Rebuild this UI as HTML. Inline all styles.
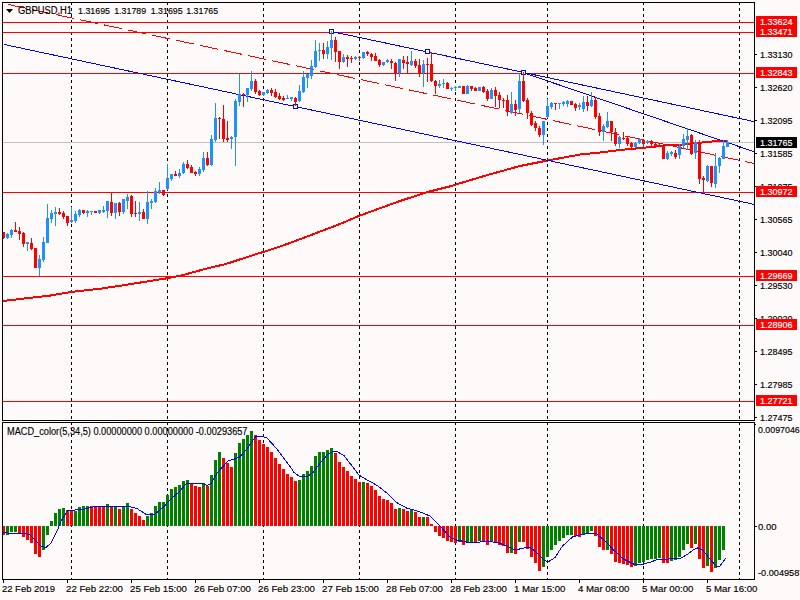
<!DOCTYPE html>
<html><head><meta charset="utf-8"><style>
html,body{margin:0;padding:0;width:800px;height:600px;overflow:hidden;background:#FFFAFA}
svg{display:block;position:absolute;left:0;top:0}
text{font-family:"Liberation Sans",sans-serif;font-size:10px;fill:#000;stroke:#000;stroke-width:0.15px}
</style></head><body>
<svg width="800" height="600" viewBox="0 0 800 600">
<rect x="0" y="0" width="800" height="600" fill="#FFFAFA"/>
<g shape-rendering="crispEdges">
<line x1="71.5" y1="3" x2="71.5" y2="420" stroke="#000" stroke-width="1" stroke-dasharray="3 3" stroke-dashoffset="1"/>
<line x1="71.5" y1="423" x2="71.5" y2="579" stroke="#000" stroke-width="1" stroke-dasharray="3 3" stroke-dashoffset="1"/>
<line x1="167.5" y1="3" x2="167.5" y2="420" stroke="#000" stroke-width="1" stroke-dasharray="3 3" stroke-dashoffset="1"/>
<line x1="167.5" y1="423" x2="167.5" y2="579" stroke="#000" stroke-width="1" stroke-dasharray="3 3" stroke-dashoffset="1"/>
<line x1="263.5" y1="3" x2="263.5" y2="420" stroke="#000" stroke-width="1" stroke-dasharray="3 3" stroke-dashoffset="1"/>
<line x1="263.5" y1="423" x2="263.5" y2="579" stroke="#000" stroke-width="1" stroke-dasharray="3 3" stroke-dashoffset="1"/>
<line x1="359.5" y1="3" x2="359.5" y2="420" stroke="#000" stroke-width="1" stroke-dasharray="3 3" stroke-dashoffset="1"/>
<line x1="359.5" y1="423" x2="359.5" y2="579" stroke="#000" stroke-width="1" stroke-dasharray="3 3" stroke-dashoffset="1"/>
<line x1="455.5" y1="3" x2="455.5" y2="420" stroke="#000" stroke-width="1" stroke-dasharray="3 3" stroke-dashoffset="1"/>
<line x1="455.5" y1="423" x2="455.5" y2="579" stroke="#000" stroke-width="1" stroke-dasharray="3 3" stroke-dashoffset="1"/>
<line x1="547.5" y1="3" x2="547.5" y2="420" stroke="#000" stroke-width="1" stroke-dasharray="3 3" stroke-dashoffset="1"/>
<line x1="547.5" y1="423" x2="547.5" y2="579" stroke="#000" stroke-width="1" stroke-dasharray="3 3" stroke-dashoffset="1"/>
<line x1="643.5" y1="3" x2="643.5" y2="420" stroke="#000" stroke-width="1" stroke-dasharray="3 3" stroke-dashoffset="1"/>
<line x1="643.5" y1="423" x2="643.5" y2="579" stroke="#000" stroke-width="1" stroke-dasharray="3 3" stroke-dashoffset="1"/>
<line x1="739.5" y1="3" x2="739.5" y2="420" stroke="#000" stroke-width="1" stroke-dasharray="3 3" stroke-dashoffset="1"/>
<line x1="739.5" y1="423" x2="739.5" y2="579" stroke="#000" stroke-width="1" stroke-dasharray="3 3" stroke-dashoffset="1"/>
<line x1="3" y1="142.5" x2="754" y2="142.5" stroke="#C0C0C0" stroke-width="1" />
<polyline points="2.5,301 50,295.6 70,292.1 100,288.75 125,285 150,281 167.5,278.2 180,275.8 195,271.75 210,267.7 225,264.25 240,259.4 255,254.5 264,251.8 285,244.75 300,239.2 337.5,225 360,215.5 400,201 427.5,192 450,186.4 459.4,183.4 487.5,175 520,166 547.5,160.5 581,154.4 600,152.5 620,150 644,147.75 665,145.5 684,144.4 697,143 712,141.5 727,141" fill="none" stroke="#FF0000" stroke-width="2"/>
<line x1="3" y1="22.5" x2="754" y2="22.5" stroke="#FF0000" stroke-width="1" />
<line x1="3" y1="32.5" x2="754" y2="32.5" stroke="#FF0000" stroke-width="1" />
<line x1="3" y1="73.5" x2="754" y2="73.5" stroke="#FF0000" stroke-width="1" />
<line x1="3" y1="192.5" x2="754" y2="192.5" stroke="#FF0000" stroke-width="1" />
<line x1="3" y1="276.5" x2="754" y2="276.5" stroke="#FF0000" stroke-width="1" />
<line x1="3" y1="325.5" x2="754" y2="325.5" stroke="#FF0000" stroke-width="1" />
<line x1="3" y1="401.5" x2="754" y2="401.5" stroke="#FF0000" stroke-width="1" />
<line x1="3.75" y1="44.4" x2="754" y2="204.35330000000002" stroke="#0000FF" stroke-width="1" />
<line x1="331.5" y1="31.5" x2="754" y2="121.577" stroke="#0000FF" stroke-width="1" />
<line x1="8" y1="4.42" x2="26" y2="8.26" stroke="#FF0000" stroke-width="1"/>
<line x1="32" y1="9.53" x2="50" y2="13.37" stroke="#FF0000" stroke-width="1"/>
<line x1="56" y1="14.65" x2="74" y2="18.49" stroke="#FF0000" stroke-width="1"/>
<line x1="80" y1="19.77" x2="98" y2="23.61" stroke="#FF0000" stroke-width="1"/>
<line x1="104" y1="24.89" x2="122" y2="28.72" stroke="#FF0000" stroke-width="1"/>
<line x1="128" y1="30.00" x2="146" y2="33.84" stroke="#FF0000" stroke-width="1"/>
<line x1="152" y1="35.12" x2="170" y2="38.96" stroke="#FF0000" stroke-width="1"/>
<line x1="176" y1="40.24" x2="194" y2="44.07" stroke="#FF0000" stroke-width="1"/>
<line x1="200" y1="45.35" x2="218" y2="49.19" stroke="#FF0000" stroke-width="1"/>
<line x1="224" y1="50.47" x2="242" y2="54.31" stroke="#FF0000" stroke-width="1"/>
<line x1="248" y1="55.59" x2="266" y2="59.42" stroke="#FF0000" stroke-width="1"/>
<line x1="272" y1="60.70" x2="290" y2="64.54" stroke="#FF0000" stroke-width="1"/>
<line x1="296" y1="65.82" x2="314" y2="69.66" stroke="#FF0000" stroke-width="1"/>
<line x1="320" y1="70.94" x2="331" y2="73.28" stroke="#FF0000" stroke-width="1"/>
<line x1="337" y1="74.56" x2="355" y2="78.40" stroke="#FF0000" stroke-width="1"/>
<line x1="361" y1="79.68" x2="379" y2="83.52" stroke="#FF0000" stroke-width="1"/>
<line x1="385" y1="84.79" x2="403" y2="88.63" stroke="#FF0000" stroke-width="1"/>
<line x1="409" y1="89.91" x2="427" y2="93.75" stroke="#FF0000" stroke-width="1"/>
<line x1="433" y1="95.03" x2="451" y2="98.87" stroke="#FF0000" stroke-width="1"/>
<line x1="457" y1="100.14" x2="475" y2="103.98" stroke="#FF0000" stroke-width="1"/>
<line x1="481" y1="105.26" x2="499" y2="109.10" stroke="#FF0000" stroke-width="1"/>
<line x1="505" y1="110.38" x2="523" y2="114.22" stroke="#FF0000" stroke-width="1"/>
<line x1="529" y1="115.50" x2="547" y2="119.33" stroke="#FF0000" stroke-width="1"/>
<line x1="553" y1="120.61" x2="571" y2="124.45" stroke="#FF0000" stroke-width="1"/>
<line x1="577" y1="125.73" x2="595" y2="129.57" stroke="#FF0000" stroke-width="1"/>
<line x1="601" y1="130.85" x2="619" y2="134.68" stroke="#FF0000" stroke-width="1"/>
<line x1="625" y1="135.96" x2="643" y2="139.80" stroke="#FF0000" stroke-width="1"/>
<line x1="649" y1="141.08" x2="667" y2="144.92" stroke="#FF0000" stroke-width="1"/>
<line x1="673" y1="146.20" x2="691" y2="150.03" stroke="#FF0000" stroke-width="1"/>
<line x1="697" y1="151.31" x2="715" y2="155.15" stroke="#FF0000" stroke-width="1"/>
<line x1="721" y1="156.43" x2="739" y2="160.27" stroke="#FF0000" stroke-width="1"/>
<line x1="745" y1="161.55" x2="754" y2="163.47" stroke="#FF0000" stroke-width="1"/>
<line x1="523.5" y1="72.7" x2="754" y2="151.64625" stroke="#0000FF" stroke-width="1" />
<rect x="293.5" y="104.5" width="4" height="4" fill="#FFFAFA" stroke="#0000FF" stroke-width="1"/>
<rect x="329.5" y="29.5" width="4" height="4" fill="#FFFAFA" stroke="#0000FF" stroke-width="1"/>
<rect x="425.5" y="49.5" width="4" height="4" fill="#FFFAFA" stroke="#0000FF" stroke-width="1"/>
<rect x="521.5" y="70.5" width="4" height="4" fill="#FFFAFA" stroke="#0000FF" stroke-width="1"/>
<rect x="3" y="232" width="1" height="7" fill="#FF0000"/>
<rect x="3" y="232" width="2" height="6" fill="#FF0000"/>
<rect x="7" y="233" width="1" height="6" fill="#1E90FF"/>
<rect x="6" y="234" width="3" height="4" fill="#1E90FF"/>
<rect x="11" y="229" width="1" height="9" fill="#1E90FF"/>
<rect x="10" y="230" width="3" height="5" fill="#1E90FF"/>
<rect x="15" y="222" width="1" height="10" fill="#FF0000"/>
<rect x="14" y="230" width="3" height="2" fill="#FF0000"/>
<rect x="19" y="227" width="1" height="13" fill="#FF0000"/>
<rect x="18" y="231" width="3" height="3" fill="#FF0000"/>
<rect x="23" y="232" width="1" height="15" fill="#FF0000"/>
<rect x="22" y="233" width="3" height="11" fill="#FF0000"/>
<rect x="27" y="242" width="1" height="9" fill="#1E90FF"/>
<rect x="26" y="242" width="3" height="2" fill="#1E90FF"/>
<rect x="31" y="238" width="1" height="12" fill="#FF0000"/>
<rect x="30" y="243" width="3" height="6" fill="#FF0000"/>
<rect x="35" y="248" width="1" height="20" fill="#FF0000"/>
<rect x="34" y="248" width="3" height="20" fill="#FF0000"/>
<rect x="39" y="255" width="1" height="21" fill="#1E90FF"/>
<rect x="38" y="259" width="3" height="9" fill="#1E90FF"/>
<rect x="43" y="237" width="1" height="25" fill="#1E90FF"/>
<rect x="42" y="242" width="3" height="18" fill="#1E90FF"/>
<rect x="47" y="204" width="1" height="39" fill="#1E90FF"/>
<rect x="46" y="218" width="3" height="25" fill="#1E90FF"/>
<rect x="51" y="210" width="1" height="13" fill="#1E90FF"/>
<rect x="50" y="213" width="3" height="6" fill="#1E90FF"/>
<rect x="55" y="207" width="1" height="19" fill="#1E90FF"/>
<rect x="54" y="212" width="3" height="2" fill="#1E90FF"/>
<rect x="59" y="208" width="1" height="7" fill="#FF0000"/>
<rect x="58" y="212" width="3" height="2" fill="#FF0000"/>
<rect x="63" y="211" width="1" height="8" fill="#FF0000"/>
<rect x="62" y="213" width="3" height="4" fill="#FF0000"/>
<rect x="67" y="216" width="1" height="10" fill="#FF0000"/>
<rect x="66" y="216" width="3" height="7" fill="#FF0000"/>
<rect x="71" y="207" width="1" height="16" fill="#1E90FF"/>
<rect x="70" y="220" width="3" height="2" fill="#1E90FF"/>
<rect x="75" y="211" width="1" height="12" fill="#1E90FF"/>
<rect x="74" y="214" width="3" height="7" fill="#1E90FF"/>
<rect x="79" y="209" width="1" height="8" fill="#1E90FF"/>
<rect x="78" y="210" width="3" height="5" fill="#1E90FF"/>
<rect x="83" y="210" width="1" height="4" fill="#FF0000"/>
<rect x="82" y="210" width="3" height="3" fill="#FF0000"/>
<rect x="87" y="210" width="1" height="7" fill="#1E90FF"/>
<rect x="86" y="211" width="3" height="2" fill="#1E90FF"/>
<rect x="91" y="211" width="1" height="4" fill="#1E90FF"/>
<rect x="90" y="211" width="3" height="1" fill="#1E90FF"/>
<rect x="95" y="211" width="1" height="2" fill="#FF0000"/>
<rect x="94" y="211" width="3" height="2" fill="#FF0000"/>
<rect x="99" y="210" width="1" height="4" fill="#1E90FF"/>
<rect x="98" y="210" width="3" height="3" fill="#1E90FF"/>
<rect x="103" y="206" width="1" height="7" fill="#1E90FF"/>
<rect x="102" y="210" width="3" height="2" fill="#1E90FF"/>
<rect x="107" y="201" width="1" height="17" fill="#1E90FF"/>
<rect x="106" y="201" width="3" height="10" fill="#1E90FF"/>
<rect x="111" y="192" width="1" height="24" fill="#FF0000"/>
<rect x="110" y="202" width="3" height="11" fill="#FF0000"/>
<rect x="115" y="203" width="1" height="16" fill="#1E90FF"/>
<rect x="114" y="203" width="3" height="10" fill="#1E90FF"/>
<rect x="119" y="202" width="1" height="14" fill="#FF0000"/>
<rect x="118" y="203" width="3" height="9" fill="#FF0000"/>
<rect x="123" y="199" width="1" height="15" fill="#1E90FF"/>
<rect x="122" y="199" width="3" height="13" fill="#1E90FF"/>
<rect x="127" y="194" width="1" height="15" fill="#1E90FF"/>
<rect x="126" y="197" width="3" height="4" fill="#1E90FF"/>
<rect x="131" y="195" width="1" height="22" fill="#FF0000"/>
<rect x="130" y="196" width="3" height="18" fill="#FF0000"/>
<rect x="135" y="201" width="1" height="16" fill="#FF0000"/>
<rect x="134" y="213" width="3" height="1" fill="#FF0000"/>
<rect x="139" y="202" width="1" height="19" fill="#1E90FF"/>
<rect x="138" y="212" width="3" height="2" fill="#1E90FF"/>
<rect x="143" y="209" width="1" height="10" fill="#FF0000"/>
<rect x="142" y="212" width="3" height="7" fill="#FF0000"/>
<rect x="147" y="191" width="1" height="33" fill="#1E90FF"/>
<rect x="146" y="202" width="3" height="17" fill="#1E90FF"/>
<rect x="151" y="199" width="1" height="10" fill="#1E90FF"/>
<rect x="150" y="201" width="3" height="2" fill="#1E90FF"/>
<rect x="155" y="188" width="1" height="15" fill="#1E90FF"/>
<rect x="154" y="191" width="3" height="11" fill="#1E90FF"/>
<rect x="159" y="182" width="1" height="12" fill="#1E90FF"/>
<rect x="158" y="190" width="3" height="2" fill="#1E90FF"/>
<rect x="163" y="190" width="1" height="6" fill="#FF0000"/>
<rect x="162" y="190" width="3" height="5" fill="#FF0000"/>
<rect x="167" y="164" width="1" height="26" fill="#1E90FF"/>
<rect x="166" y="178" width="3" height="11" fill="#1E90FF"/>
<rect x="171" y="174" width="1" height="7" fill="#1E90FF"/>
<rect x="170" y="174" width="3" height="5" fill="#1E90FF"/>
<rect x="175" y="171" width="1" height="5" fill="#FF0000"/>
<rect x="174" y="174" width="3" height="2" fill="#FF0000"/>
<rect x="179" y="169" width="1" height="9" fill="#1E90FF"/>
<rect x="178" y="173" width="3" height="3" fill="#1E90FF"/>
<rect x="183" y="162" width="1" height="12" fill="#1E90FF"/>
<rect x="182" y="164" width="3" height="9" fill="#1E90FF"/>
<rect x="187" y="160" width="1" height="9" fill="#FF0000"/>
<rect x="186" y="164" width="3" height="4" fill="#FF0000"/>
<rect x="191" y="165" width="1" height="8" fill="#FF0000"/>
<rect x="190" y="167" width="3" height="6" fill="#FF0000"/>
<rect x="195" y="171" width="1" height="5" fill="#FF0000"/>
<rect x="194" y="172" width="3" height="2" fill="#FF0000"/>
<rect x="199" y="167" width="1" height="9" fill="#1E90FF"/>
<rect x="198" y="169" width="3" height="5" fill="#1E90FF"/>
<rect x="203" y="152" width="1" height="20" fill="#1E90FF"/>
<rect x="202" y="158" width="3" height="12" fill="#1E90FF"/>
<rect x="207" y="152" width="1" height="14" fill="#FF0000"/>
<rect x="206" y="158" width="3" height="7" fill="#FF0000"/>
<rect x="211" y="135" width="1" height="31" fill="#1E90FF"/>
<rect x="210" y="139" width="3" height="26" fill="#1E90FF"/>
<rect x="215" y="103" width="1" height="39" fill="#1E90FF"/>
<rect x="214" y="118" width="3" height="22" fill="#1E90FF"/>
<rect x="219" y="117" width="1" height="22" fill="#FF0000"/>
<rect x="218" y="118" width="3" height="1" fill="#FF0000"/>
<rect x="223" y="105" width="1" height="37" fill="#FF0000"/>
<rect x="222" y="119" width="3" height="20" fill="#FF0000"/>
<rect x="227" y="121" width="1" height="21" fill="#FF0000"/>
<rect x="226" y="138" width="3" height="2" fill="#FF0000"/>
<rect x="231" y="136" width="1" height="13" fill="#1E90FF"/>
<rect x="230" y="137" width="3" height="2" fill="#1E90FF"/>
<rect x="235" y="99" width="1" height="67" fill="#1E90FF"/>
<rect x="234" y="101" width="3" height="36" fill="#1E90FF"/>
<rect x="239" y="74" width="1" height="32" fill="#1E90FF"/>
<rect x="238" y="94" width="3" height="8" fill="#1E90FF"/>
<rect x="243" y="93" width="1" height="14" fill="#FF0000"/>
<rect x="242" y="94" width="3" height="1" fill="#FF0000"/>
<rect x="247" y="88" width="1" height="14" fill="#1E90FF"/>
<rect x="246" y="88" width="3" height="7" fill="#1E90FF"/>
<rect x="251" y="71" width="1" height="20" fill="#1E90FF"/>
<rect x="250" y="81" width="3" height="8" fill="#1E90FF"/>
<rect x="255" y="79" width="1" height="15" fill="#FF0000"/>
<rect x="254" y="81" width="3" height="11" fill="#FF0000"/>
<rect x="259" y="90" width="1" height="6" fill="#FF0000"/>
<rect x="258" y="91" width="3" height="4" fill="#FF0000"/>
<rect x="263" y="92" width="1" height="4" fill="#1E90FF"/>
<rect x="262" y="92" width="3" height="3" fill="#1E90FF"/>
<rect x="267" y="89" width="1" height="5" fill="#1E90FF"/>
<rect x="266" y="90" width="3" height="3" fill="#1E90FF"/>
<rect x="271" y="88" width="1" height="8" fill="#FF0000"/>
<rect x="270" y="90" width="3" height="3" fill="#FF0000"/>
<rect x="275" y="89" width="1" height="9" fill="#FF0000"/>
<rect x="274" y="92" width="3" height="5" fill="#FF0000"/>
<rect x="279" y="93" width="1" height="7" fill="#FF0000"/>
<rect x="278" y="96" width="3" height="3" fill="#FF0000"/>
<rect x="283" y="96" width="1" height="5" fill="#FF0000"/>
<rect x="282" y="98" width="3" height="2" fill="#FF0000"/>
<rect x="287" y="95" width="1" height="4" fill="#1E90FF"/>
<rect x="286" y="98" width="3" height="1" fill="#1E90FF"/>
<rect x="291" y="97" width="1" height="4" fill="#1E90FF"/>
<rect x="290" y="97" width="3" height="2" fill="#1E90FF"/>
<rect x="295" y="97" width="1" height="9" fill="#FF0000"/>
<rect x="294" y="98" width="3" height="4" fill="#FF0000"/>
<rect x="299" y="85" width="1" height="17" fill="#1E90FF"/>
<rect x="298" y="91" width="3" height="10" fill="#1E90FF"/>
<rect x="303" y="71" width="1" height="22" fill="#1E90FF"/>
<rect x="302" y="77" width="3" height="15" fill="#1E90FF"/>
<rect x="307" y="74" width="1" height="14" fill="#1E90FF"/>
<rect x="306" y="74" width="3" height="4" fill="#1E90FF"/>
<rect x="311" y="60" width="1" height="19" fill="#1E90FF"/>
<rect x="310" y="66" width="3" height="10" fill="#1E90FF"/>
<rect x="315" y="40" width="1" height="28" fill="#1E90FF"/>
<rect x="314" y="51" width="3" height="16" fill="#1E90FF"/>
<rect x="319" y="43" width="1" height="18" fill="#1E90FF"/>
<rect x="318" y="50" width="3" height="1" fill="#1E90FF"/>
<rect x="323" y="43" width="1" height="16" fill="#FF0000"/>
<rect x="322" y="50" width="3" height="4" fill="#FF0000"/>
<rect x="327" y="41" width="1" height="18" fill="#1E90FF"/>
<rect x="326" y="47" width="3" height="7" fill="#1E90FF"/>
<rect x="331" y="31" width="1" height="29" fill="#1E90FF"/>
<rect x="330" y="40" width="3" height="8" fill="#1E90FF"/>
<rect x="335" y="37" width="1" height="25" fill="#FF0000"/>
<rect x="334" y="40" width="3" height="12" fill="#FF0000"/>
<rect x="339" y="51" width="1" height="18" fill="#FF0000"/>
<rect x="338" y="51" width="3" height="11" fill="#FF0000"/>
<rect x="343" y="54" width="1" height="9" fill="#1E90FF"/>
<rect x="342" y="57" width="3" height="5" fill="#1E90FF"/>
<rect x="347" y="55" width="1" height="12" fill="#FF0000"/>
<rect x="346" y="57" width="3" height="2" fill="#FF0000"/>
<rect x="351" y="56" width="1" height="7" fill="#FF0000"/>
<rect x="350" y="58" width="3" height="1" fill="#FF0000"/>
<rect x="355" y="56" width="1" height="4" fill="#1E90FF"/>
<rect x="354" y="57" width="3" height="2" fill="#1E90FF"/>
<rect x="359" y="56" width="1" height="5" fill="#FF0000"/>
<rect x="358" y="57" width="3" height="1" fill="#FF0000"/>
<rect x="363" y="52" width="1" height="7" fill="#1E90FF"/>
<rect x="362" y="52" width="3" height="6" fill="#1E90FF"/>
<rect x="367" y="51" width="1" height="5" fill="#FF0000"/>
<rect x="366" y="52" width="3" height="2" fill="#FF0000"/>
<rect x="371" y="53" width="1" height="8" fill="#FF0000"/>
<rect x="370" y="54" width="3" height="3" fill="#FF0000"/>
<rect x="375" y="53" width="1" height="8" fill="#FF0000"/>
<rect x="374" y="56" width="3" height="5" fill="#FF0000"/>
<rect x="379" y="59" width="1" height="8" fill="#FF0000"/>
<rect x="378" y="60" width="3" height="5" fill="#FF0000"/>
<rect x="383" y="62" width="1" height="4" fill="#1E90FF"/>
<rect x="382" y="62" width="3" height="3" fill="#1E90FF"/>
<rect x="387" y="59" width="1" height="4" fill="#1E90FF"/>
<rect x="386" y="60" width="3" height="2" fill="#1E90FF"/>
<rect x="391" y="59" width="1" height="10" fill="#FF0000"/>
<rect x="390" y="61" width="3" height="2" fill="#FF0000"/>
<rect x="395" y="62" width="1" height="19" fill="#FF0000"/>
<rect x="394" y="63" width="3" height="11" fill="#FF0000"/>
<rect x="399" y="59" width="1" height="18" fill="#1E90FF"/>
<rect x="398" y="59" width="3" height="14" fill="#1E90FF"/>
<rect x="403" y="56" width="1" height="13" fill="#FF0000"/>
<rect x="402" y="60" width="3" height="3" fill="#FF0000"/>
<rect x="407" y="56" width="1" height="17" fill="#FF0000"/>
<rect x="406" y="62" width="3" height="2" fill="#FF0000"/>
<rect x="411" y="51" width="1" height="15" fill="#1E90FF"/>
<rect x="410" y="61" width="3" height="4" fill="#1E90FF"/>
<rect x="415" y="59" width="1" height="9" fill="#FF0000"/>
<rect x="414" y="61" width="3" height="5" fill="#FF0000"/>
<rect x="419" y="59" width="1" height="18" fill="#FF0000"/>
<rect x="418" y="65" width="3" height="8" fill="#FF0000"/>
<rect x="423" y="60" width="1" height="27" fill="#1E90FF"/>
<rect x="422" y="64" width="3" height="9" fill="#1E90FF"/>
<rect x="427" y="58" width="1" height="24" fill="#FF0000"/>
<rect x="426" y="64" width="3" height="1" fill="#FF0000"/>
<rect x="431" y="52" width="1" height="30" fill="#FF0000"/>
<rect x="430" y="64" width="3" height="17" fill="#FF0000"/>
<rect x="435" y="80" width="1" height="14" fill="#FF0000"/>
<rect x="434" y="81" width="3" height="5" fill="#FF0000"/>
<rect x="439" y="80" width="1" height="8" fill="#1E90FF"/>
<rect x="438" y="84" width="3" height="2" fill="#1E90FF"/>
<rect x="443" y="79" width="1" height="9" fill="#1E90FF"/>
<rect x="442" y="83" width="3" height="1" fill="#1E90FF"/>
<rect x="447" y="82" width="1" height="7" fill="#FF0000"/>
<rect x="446" y="83" width="3" height="6" fill="#FF0000"/>
<rect x="451" y="87" width="1" height="4" fill="#1E90FF"/>
<rect x="450" y="88" width="3" height="1" fill="#1E90FF"/>
<rect x="455" y="86" width="1" height="5" fill="#1E90FF"/>
<rect x="454" y="87" width="3" height="1" fill="#1E90FF"/>
<rect x="459" y="86" width="1" height="2" fill="#1E90FF"/>
<rect x="458" y="86" width="3" height="2" fill="#1E90FF"/>
<rect x="463" y="86" width="1" height="8" fill="#FF0000"/>
<rect x="462" y="86" width="3" height="8" fill="#FF0000"/>
<rect x="467" y="85" width="1" height="9" fill="#1E90FF"/>
<rect x="466" y="86" width="3" height="8" fill="#1E90FF"/>
<rect x="471" y="86" width="1" height="5" fill="#FF0000"/>
<rect x="470" y="86" width="3" height="3" fill="#FF0000"/>
<rect x="475" y="87" width="1" height="4" fill="#FF0000"/>
<rect x="474" y="88" width="3" height="3" fill="#FF0000"/>
<rect x="479" y="87" width="1" height="4" fill="#1E90FF"/>
<rect x="478" y="87" width="3" height="4" fill="#1E90FF"/>
<rect x="483" y="86" width="1" height="7" fill="#FF0000"/>
<rect x="482" y="87" width="3" height="5" fill="#FF0000"/>
<rect x="487" y="89" width="1" height="12" fill="#FF0000"/>
<rect x="486" y="91" width="3" height="8" fill="#FF0000"/>
<rect x="491" y="88" width="1" height="11" fill="#1E90FF"/>
<rect x="490" y="90" width="3" height="9" fill="#1E90FF"/>
<rect x="495" y="87" width="1" height="20" fill="#FF0000"/>
<rect x="494" y="90" width="3" height="6" fill="#FF0000"/>
<rect x="499" y="92" width="1" height="16" fill="#FF0000"/>
<rect x="498" y="95" width="3" height="5" fill="#FF0000"/>
<rect x="503" y="98" width="1" height="10" fill="#FF0000"/>
<rect x="502" y="100" width="3" height="1" fill="#FF0000"/>
<rect x="507" y="95" width="1" height="21" fill="#FF0000"/>
<rect x="506" y="100" width="3" height="12" fill="#FF0000"/>
<rect x="511" y="92" width="1" height="22" fill="#1E90FF"/>
<rect x="510" y="104" width="3" height="9" fill="#1E90FF"/>
<rect x="515" y="100" width="1" height="16" fill="#FF0000"/>
<rect x="514" y="104" width="3" height="6" fill="#FF0000"/>
<rect x="519" y="73" width="1" height="40" fill="#1E90FF"/>
<rect x="518" y="81" width="3" height="28" fill="#1E90FF"/>
<rect x="523" y="72" width="1" height="30" fill="#FF0000"/>
<rect x="522" y="81" width="3" height="20" fill="#FF0000"/>
<rect x="527" y="98" width="1" height="21" fill="#FF0000"/>
<rect x="526" y="100" width="3" height="13" fill="#FF0000"/>
<rect x="531" y="111" width="1" height="15" fill="#FF0000"/>
<rect x="530" y="113" width="3" height="12" fill="#FF0000"/>
<rect x="535" y="121" width="1" height="10" fill="#FF0000"/>
<rect x="534" y="123" width="3" height="5" fill="#FF0000"/>
<rect x="539" y="126" width="1" height="11" fill="#FF0000"/>
<rect x="538" y="128" width="3" height="7" fill="#FF0000"/>
<rect x="543" y="121" width="1" height="24" fill="#1E90FF"/>
<rect x="542" y="121" width="3" height="14" fill="#1E90FF"/>
<rect x="547" y="99" width="1" height="19" fill="#1E90FF"/>
<rect x="546" y="106" width="3" height="11" fill="#1E90FF"/>
<rect x="551" y="102" width="1" height="7" fill="#1E90FF"/>
<rect x="550" y="103" width="3" height="4" fill="#1E90FF"/>
<rect x="555" y="103" width="1" height="7" fill="#FF0000"/>
<rect x="554" y="103" width="3" height="1" fill="#FF0000"/>
<rect x="559" y="103" width="1" height="6" fill="#1E90FF"/>
<rect x="558" y="103" width="3" height="1" fill="#1E90FF"/>
<rect x="563" y="101" width="1" height="5" fill="#1E90FF"/>
<rect x="562" y="102" width="3" height="2" fill="#1E90FF"/>
<rect x="567" y="100" width="1" height="7" fill="#1E90FF"/>
<rect x="566" y="101" width="3" height="3" fill="#1E90FF"/>
<rect x="571" y="101" width="1" height="4" fill="#FF0000"/>
<rect x="570" y="101" width="3" height="4" fill="#FF0000"/>
<rect x="575" y="103" width="1" height="8" fill="#FF0000"/>
<rect x="574" y="104" width="3" height="4" fill="#FF0000"/>
<rect x="579" y="103" width="1" height="7" fill="#1E90FF"/>
<rect x="578" y="105" width="3" height="2" fill="#1E90FF"/>
<rect x="583" y="96" width="1" height="16" fill="#1E90FF"/>
<rect x="582" y="102" width="3" height="7" fill="#1E90FF"/>
<rect x="587" y="96" width="1" height="15" fill="#FF0000"/>
<rect x="586" y="102" width="3" height="4" fill="#FF0000"/>
<rect x="591" y="92" width="1" height="15" fill="#1E90FF"/>
<rect x="590" y="100" width="3" height="6" fill="#1E90FF"/>
<rect x="595" y="97" width="1" height="22" fill="#FF0000"/>
<rect x="594" y="100" width="3" height="17" fill="#FF0000"/>
<rect x="599" y="113" width="1" height="23" fill="#FF0000"/>
<rect x="598" y="116" width="3" height="16" fill="#FF0000"/>
<rect x="603" y="124" width="1" height="17" fill="#1E90FF"/>
<rect x="602" y="126" width="3" height="6" fill="#1E90FF"/>
<rect x="607" y="112" width="1" height="16" fill="#1E90FF"/>
<rect x="606" y="121" width="3" height="6" fill="#1E90FF"/>
<rect x="611" y="121" width="1" height="20" fill="#FF0000"/>
<rect x="610" y="121" width="3" height="11" fill="#FF0000"/>
<rect x="615" y="128" width="1" height="18" fill="#FF0000"/>
<rect x="614" y="132" width="3" height="12" fill="#FF0000"/>
<rect x="619" y="136" width="1" height="12" fill="#1E90FF"/>
<rect x="618" y="137" width="3" height="7" fill="#1E90FF"/>
<rect x="623" y="132" width="1" height="8" fill="#FF0000"/>
<rect x="622" y="138" width="3" height="1" fill="#FF0000"/>
<rect x="627" y="136" width="1" height="10" fill="#FF0000"/>
<rect x="626" y="138" width="3" height="6" fill="#FF0000"/>
<rect x="631" y="142" width="1" height="7" fill="#FF0000"/>
<rect x="630" y="143" width="3" height="4" fill="#FF0000"/>
<rect x="635" y="142" width="1" height="6" fill="#1E90FF"/>
<rect x="634" y="143" width="3" height="4" fill="#1E90FF"/>
<rect x="639" y="138" width="1" height="6" fill="#1E90FF"/>
<rect x="638" y="139" width="3" height="4" fill="#1E90FF"/>
<rect x="643" y="139" width="1" height="9" fill="#FF0000"/>
<rect x="642" y="140" width="3" height="4" fill="#FF0000"/>
<rect x="647" y="140" width="1" height="4" fill="#1E90FF"/>
<rect x="646" y="141" width="3" height="2" fill="#1E90FF"/>
<rect x="651" y="140" width="1" height="6" fill="#FF0000"/>
<rect x="650" y="141" width="3" height="3" fill="#FF0000"/>
<rect x="655" y="143" width="1" height="4" fill="#FF0000"/>
<rect x="654" y="144" width="3" height="2" fill="#FF0000"/>
<rect x="659" y="144" width="1" height="3" fill="#FF0000"/>
<rect x="658" y="145" width="3" height="1" fill="#FF0000"/>
<rect x="663" y="144" width="1" height="15" fill="#FF0000"/>
<rect x="662" y="145" width="3" height="14" fill="#FF0000"/>
<rect x="667" y="151" width="1" height="9" fill="#1E90FF"/>
<rect x="666" y="153" width="3" height="6" fill="#1E90FF"/>
<rect x="671" y="151" width="1" height="5" fill="#1E90FF"/>
<rect x="670" y="152" width="3" height="2" fill="#1E90FF"/>
<rect x="675" y="150" width="1" height="9" fill="#FF0000"/>
<rect x="674" y="153" width="3" height="4" fill="#FF0000"/>
<rect x="679" y="144" width="1" height="15" fill="#1E90FF"/>
<rect x="678" y="146" width="3" height="9" fill="#1E90FF"/>
<rect x="683" y="134" width="1" height="14" fill="#1E90FF"/>
<rect x="682" y="139" width="3" height="7" fill="#1E90FF"/>
<rect x="687" y="128" width="1" height="22" fill="#1E90FF"/>
<rect x="686" y="136" width="3" height="4" fill="#1E90FF"/>
<rect x="691" y="134" width="1" height="21" fill="#FF0000"/>
<rect x="690" y="135" width="3" height="19" fill="#FF0000"/>
<rect x="695" y="140" width="1" height="19" fill="#1E90FF"/>
<rect x="694" y="142" width="3" height="11" fill="#1E90FF"/>
<rect x="699" y="140" width="1" height="44" fill="#FF0000"/>
<rect x="698" y="142" width="3" height="37" fill="#FF0000"/>
<rect x="703" y="176" width="1" height="16" fill="#FF0000"/>
<rect x="702" y="178" width="3" height="2" fill="#FF0000"/>
<rect x="707" y="165" width="1" height="17" fill="#1E90FF"/>
<rect x="706" y="166" width="3" height="15" fill="#1E90FF"/>
<rect x="711" y="166" width="1" height="21" fill="#FF0000"/>
<rect x="710" y="166" width="3" height="17" fill="#FF0000"/>
<rect x="715" y="153" width="1" height="35" fill="#1E90FF"/>
<rect x="714" y="166" width="3" height="18" fill="#1E90FF"/>
<rect x="719" y="157" width="1" height="16" fill="#1E90FF"/>
<rect x="718" y="158" width="3" height="8" fill="#1E90FF"/>
<rect x="723" y="140" width="1" height="19" fill="#1E90FF"/>
<rect x="722" y="146" width="3" height="13" fill="#1E90FF"/>
<rect x="727" y="140" width="1" height="7" fill="#1E90FF"/>
<rect x="726" y="142" width="3" height="5" fill="#1E90FF"/>
<rect x="3" y="526" width="2" height="9" fill="#FF0000"/>
<rect x="6" y="526" width="3" height="9" fill="#008000"/>
<rect x="10" y="526" width="3" height="6" fill="#008000"/>
<rect x="14" y="526" width="3" height="6" fill="#008000"/>
<rect x="18" y="526" width="3" height="7" fill="#FF0000"/>
<rect x="22" y="526" width="3" height="11" fill="#FF0000"/>
<rect x="26" y="526" width="3" height="14" fill="#FF0000"/>
<rect x="30" y="526" width="3" height="17" fill="#FF0000"/>
<rect x="34" y="526" width="3" height="28" fill="#FF0000"/>
<rect x="38" y="526" width="3" height="31" fill="#FF0000"/>
<rect x="42" y="526" width="3" height="24" fill="#008000"/>
<rect x="46" y="526" width="3" height="9" fill="#008000"/>
<rect x="50" y="521" width="3" height="5" fill="#008000"/>
<rect x="54" y="513" width="3" height="13" fill="#008000"/>
<rect x="58" y="509" width="3" height="17" fill="#008000"/>
<rect x="62" y="508" width="3" height="18" fill="#008000"/>
<rect x="66" y="510" width="3" height="16" fill="#FF0000"/>
<rect x="70" y="511" width="3" height="15" fill="#FF0000"/>
<rect x="74" y="511" width="3" height="15" fill="#008000"/>
<rect x="78" y="507" width="3" height="19" fill="#008000"/>
<rect x="82" y="506" width="3" height="20" fill="#008000"/>
<rect x="86" y="506" width="3" height="20" fill="#008000"/>
<rect x="90" y="506" width="3" height="20" fill="#FF0000"/>
<rect x="94" y="507" width="3" height="19" fill="#FF0000"/>
<rect x="98" y="507" width="3" height="19" fill="#FF0000"/>
<rect x="102" y="507" width="3" height="19" fill="#FF0000"/>
<rect x="106" y="504" width="3" height="22" fill="#008000"/>
<rect x="110" y="507" width="3" height="19" fill="#FF0000"/>
<rect x="114" y="506" width="3" height="20" fill="#008000"/>
<rect x="118" y="509" width="3" height="17" fill="#FF0000"/>
<rect x="122" y="506" width="3" height="20" fill="#008000"/>
<rect x="126" y="503" width="3" height="23" fill="#008000"/>
<rect x="130" y="509" width="3" height="17" fill="#FF0000"/>
<rect x="134" y="513" width="3" height="13" fill="#FF0000"/>
<rect x="138" y="516" width="3" height="10" fill="#FF0000"/>
<rect x="142" y="520" width="3" height="6" fill="#FF0000"/>
<rect x="146" y="516" width="3" height="10" fill="#008000"/>
<rect x="150" y="513" width="3" height="13" fill="#008000"/>
<rect x="154" y="506" width="3" height="20" fill="#008000"/>
<rect x="158" y="502" width="3" height="24" fill="#008000"/>
<rect x="162" y="502" width="3" height="24" fill="#008000"/>
<rect x="166" y="495" width="3" height="31" fill="#008000"/>
<rect x="170" y="489" width="3" height="37" fill="#008000"/>
<rect x="174" y="487" width="3" height="39" fill="#008000"/>
<rect x="178" y="485" width="3" height="41" fill="#008000"/>
<rect x="182" y="481" width="3" height="45" fill="#008000"/>
<rect x="186" y="480" width="3" height="46" fill="#008000"/>
<rect x="190" y="484" width="3" height="42" fill="#FF0000"/>
<rect x="194" y="486" width="3" height="40" fill="#FF0000"/>
<rect x="198" y="487" width="3" height="39" fill="#FF0000"/>
<rect x="202" y="483" width="3" height="43" fill="#008000"/>
<rect x="206" y="486" width="3" height="40" fill="#FF0000"/>
<rect x="210" y="475" width="3" height="51" fill="#008000"/>
<rect x="214" y="460" width="3" height="66" fill="#008000"/>
<rect x="218" y="452" width="3" height="74" fill="#008000"/>
<rect x="222" y="458" width="3" height="68" fill="#FF0000"/>
<rect x="226" y="463" width="3" height="63" fill="#FF0000"/>
<rect x="230" y="467" width="3" height="59" fill="#FF0000"/>
<rect x="234" y="453" width="3" height="73" fill="#008000"/>
<rect x="238" y="443" width="3" height="83" fill="#008000"/>
<rect x="242" y="439" width="3" height="87" fill="#008000"/>
<rect x="246" y="435" width="3" height="91" fill="#008000"/>
<rect x="250" y="431" width="3" height="95" fill="#008000"/>
<rect x="254" y="435" width="3" height="91" fill="#FF0000"/>
<rect x="258" y="440" width="3" height="86" fill="#FF0000"/>
<rect x="262" y="444" width="3" height="82" fill="#FF0000"/>
<rect x="266" y="447" width="3" height="79" fill="#FF0000"/>
<rect x="270" y="452" width="3" height="74" fill="#FF0000"/>
<rect x="274" y="458" width="3" height="68" fill="#FF0000"/>
<rect x="278" y="464" width="3" height="62" fill="#FF0000"/>
<rect x="282" y="469" width="3" height="57" fill="#FF0000"/>
<rect x="286" y="474" width="3" height="52" fill="#FF0000"/>
<rect x="290" y="477" width="3" height="49" fill="#FF0000"/>
<rect x="294" y="481" width="3" height="45" fill="#FF0000"/>
<rect x="298" y="480" width="3" height="46" fill="#008000"/>
<rect x="302" y="474" width="3" height="52" fill="#008000"/>
<rect x="306" y="471" width="3" height="55" fill="#008000"/>
<rect x="310" y="466" width="3" height="60" fill="#008000"/>
<rect x="314" y="456" width="3" height="70" fill="#008000"/>
<rect x="318" y="452" width="3" height="74" fill="#008000"/>
<rect x="322" y="452" width="3" height="74" fill="#008000"/>
<rect x="326" y="450" width="3" height="76" fill="#008000"/>
<rect x="330" y="448" width="3" height="78" fill="#008000"/>
<rect x="334" y="453" width="3" height="73" fill="#FF0000"/>
<rect x="338" y="462" width="3" height="64" fill="#FF0000"/>
<rect x="342" y="467" width="3" height="59" fill="#FF0000"/>
<rect x="346" y="471" width="3" height="55" fill="#FF0000"/>
<rect x="350" y="476" width="3" height="50" fill="#FF0000"/>
<rect x="354" y="479" width="3" height="47" fill="#FF0000"/>
<rect x="358" y="482" width="3" height="44" fill="#FF0000"/>
<rect x="362" y="482" width="3" height="44" fill="#008000"/>
<rect x="366" y="483" width="3" height="43" fill="#FF0000"/>
<rect x="370" y="486" width="3" height="40" fill="#FF0000"/>
<rect x="374" y="490" width="3" height="36" fill="#FF0000"/>
<rect x="378" y="496" width="3" height="30" fill="#FF0000"/>
<rect x="382" y="499" width="3" height="27" fill="#FF0000"/>
<rect x="386" y="500" width="3" height="26" fill="#FF0000"/>
<rect x="390" y="503" width="3" height="23" fill="#FF0000"/>
<rect x="394" y="509" width="3" height="17" fill="#FF0000"/>
<rect x="398" y="508" width="3" height="18" fill="#008000"/>
<rect x="402" y="509" width="3" height="17" fill="#FF0000"/>
<rect x="406" y="511" width="3" height="15" fill="#FF0000"/>
<rect x="410" y="509" width="3" height="17" fill="#008000"/>
<rect x="414" y="512" width="3" height="14" fill="#FF0000"/>
<rect x="418" y="517" width="3" height="9" fill="#FF0000"/>
<rect x="422" y="517" width="3" height="9" fill="#008000"/>
<rect x="426" y="517" width="3" height="9" fill="#FF0000"/>
<rect x="430" y="524" width="3" height="2" fill="#FF0000"/>
<rect x="434" y="526" width="3" height="6" fill="#FF0000"/>
<rect x="438" y="526" width="3" height="10" fill="#FF0000"/>
<rect x="442" y="526" width="3" height="12" fill="#FF0000"/>
<rect x="446" y="526" width="3" height="15" fill="#FF0000"/>
<rect x="450" y="526" width="3" height="16" fill="#FF0000"/>
<rect x="454" y="526" width="3" height="17" fill="#FF0000"/>
<rect x="458" y="526" width="3" height="16" fill="#008000"/>
<rect x="462" y="526" width="3" height="19" fill="#FF0000"/>
<rect x="466" y="526" width="3" height="16" fill="#008000"/>
<rect x="470" y="526" width="3" height="16" fill="#008000"/>
<rect x="474" y="526" width="3" height="16" fill="#FF0000"/>
<rect x="478" y="526" width="3" height="15" fill="#008000"/>
<rect x="482" y="526" width="3" height="15" fill="#FF0000"/>
<rect x="486" y="526" width="3" height="19" fill="#FF0000"/>
<rect x="490" y="526" width="3" height="16" fill="#008000"/>
<rect x="494" y="526" width="3" height="17" fill="#FF0000"/>
<rect x="498" y="526" width="3" height="19" fill="#FF0000"/>
<rect x="502" y="526" width="3" height="20" fill="#FF0000"/>
<rect x="506" y="526" width="3" height="27" fill="#FF0000"/>
<rect x="510" y="526" width="3" height="27" fill="#008000"/>
<rect x="514" y="526" width="3" height="28" fill="#FF0000"/>
<rect x="518" y="526" width="3" height="16" fill="#008000"/>
<rect x="522" y="526" width="3" height="16" fill="#FF0000"/>
<rect x="526" y="526" width="3" height="23" fill="#FF0000"/>
<rect x="530" y="526" width="3" height="31" fill="#FF0000"/>
<rect x="534" y="526" width="3" height="37" fill="#FF0000"/>
<rect x="538" y="526" width="3" height="45" fill="#FF0000"/>
<rect x="542" y="526" width="3" height="41" fill="#008000"/>
<rect x="546" y="526" width="3" height="31" fill="#008000"/>
<rect x="550" y="526" width="3" height="24" fill="#008000"/>
<rect x="554" y="526" width="3" height="19" fill="#008000"/>
<rect x="558" y="526" width="3" height="15" fill="#008000"/>
<rect x="562" y="526" width="3" height="12" fill="#008000"/>
<rect x="566" y="526" width="3" height="9" fill="#008000"/>
<rect x="570" y="526" width="3" height="9" fill="#008000"/>
<rect x="574" y="526" width="3" height="10" fill="#FF0000"/>
<rect x="578" y="526" width="3" height="11" fill="#FF0000"/>
<rect x="582" y="526" width="3" height="8" fill="#008000"/>
<rect x="586" y="526" width="3" height="8" fill="#008000"/>
<rect x="590" y="526" width="3" height="5" fill="#008000"/>
<rect x="594" y="526" width="3" height="10" fill="#FF0000"/>
<rect x="598" y="526" width="3" height="21" fill="#FF0000"/>
<rect x="602" y="526" width="3" height="24" fill="#FF0000"/>
<rect x="606" y="526" width="3" height="24" fill="#008000"/>
<rect x="610" y="526" width="3" height="28" fill="#FF0000"/>
<rect x="614" y="526" width="3" height="36" fill="#FF0000"/>
<rect x="618" y="526" width="3" height="37" fill="#FF0000"/>
<rect x="622" y="526" width="3" height="38" fill="#FF0000"/>
<rect x="626" y="526" width="3" height="39" fill="#FF0000"/>
<rect x="630" y="526" width="3" height="41" fill="#FF0000"/>
<rect x="634" y="526" width="3" height="40" fill="#008000"/>
<rect x="638" y="526" width="3" height="37" fill="#008000"/>
<rect x="642" y="526" width="3" height="36" fill="#008000"/>
<rect x="646" y="526" width="3" height="34" fill="#008000"/>
<rect x="650" y="526" width="3" height="33" fill="#008000"/>
<rect x="654" y="526" width="3" height="33" fill="#008000"/>
<rect x="658" y="526" width="3" height="32" fill="#008000"/>
<rect x="662" y="526" width="3" height="37" fill="#FF0000"/>
<rect x="666" y="526" width="3" height="37" fill="#FF0000"/>
<rect x="670" y="526" width="3" height="35" fill="#008000"/>
<rect x="674" y="526" width="3" height="34" fill="#008000"/>
<rect x="678" y="526" width="3" height="31" fill="#008000"/>
<rect x="682" y="526" width="3" height="24" fill="#008000"/>
<rect x="686" y="526" width="3" height="18" fill="#008000"/>
<rect x="690" y="526" width="3" height="22" fill="#FF0000"/>
<rect x="694" y="526" width="3" height="18" fill="#008000"/>
<rect x="698" y="526" width="3" height="33" fill="#FF0000"/>
<rect x="702" y="526" width="3" height="42" fill="#FF0000"/>
<rect x="706" y="526" width="3" height="40" fill="#008000"/>
<rect x="710" y="526" width="3" height="46" fill="#FF0000"/>
<rect x="714" y="526" width="3" height="42" fill="#008000"/>
<rect x="718" y="526" width="3" height="34" fill="#008000"/>
<rect x="722" y="526" width="3" height="24" fill="#008000"/>
<polyline points="2.5,532 7.5,533 25,533.5 30,535 41,546 46,547.5 51,543 57.5,530 61,521 67.5,511 75,510 85,509 95,506.5 108.5,506.5 121,506 128.5,506.5 137,508.5 147,515 155,514 163.5,507 171,499 180,491 186,484 190,483 196,483 203,483.5 207,485.5 211,483.5 217,473 228,461 234.5,459 239.5,457 247,449 256,436 262,436.5 267,438 277,449 284.5,459 292,469 294,472.5 299,476 307,477 313,472.5 320.5,462.5 328,454 333,451.5 337,451.5 344,455.6 350.5,464 359,475 365.5,479 378,486 388,494 396.5,502.5 406.5,508 414,510 421.5,512.5 430,516 440,526 450,537 456.5,540 466.5,542 480,542 487.5,541 498.75,543 506,545.6 515,550 524,548 530,547.5 536,552 544,560 548,562 555,557.5 562.5,546 572.5,537 580,535 591,533 597,534 606,542 613.5,550 623.5,559 633.5,564 643.5,564 651,562 658.5,559 668.5,559 680,558.75 688,554 694,549.5 697.5,548 702.5,550 709,558 716,566 720,566 726,558" fill="none" stroke="#0000FF" stroke-width="1"/>
<rect x="2.5" y="2.5" width="752" height="418" fill="none" stroke="#000" stroke-width="1"/>
<rect x="2.5" y="422.5" width="752" height="157" fill="none" stroke="#000" stroke-width="1"/>
<rect x="755" y="54" width="2" height="1" fill="#000"/>
<rect x="755" y="87" width="2" height="1" fill="#000"/>
<rect x="755" y="120" width="2" height="1" fill="#000"/>
<rect x="755" y="153" width="2" height="1" fill="#000"/>
<rect x="755" y="186" width="2" height="1" fill="#000"/>
<rect x="755" y="219" width="2" height="1" fill="#000"/>
<rect x="755" y="252" width="2" height="1" fill="#000"/>
<rect x="755" y="285" width="2" height="1" fill="#000"/>
<rect x="755" y="318" width="2" height="1" fill="#000"/>
<rect x="755" y="351" width="2" height="1" fill="#000"/>
<rect x="755" y="384" width="2" height="1" fill="#000"/>
<rect x="755" y="417" width="2" height="1" fill="#000"/>
<rect x="755" y="424" width="1" height="1" fill="#000"/>
<rect x="755" y="526" width="2" height="1" fill="#000"/>
<rect x="3" y="580" width="1" height="3" fill="#000"/>
<rect x="67" y="580" width="1" height="3" fill="#000"/>
<rect x="131" y="580" width="1" height="3" fill="#000"/>
<rect x="195" y="580" width="1" height="3" fill="#000"/>
<rect x="259" y="580" width="1" height="3" fill="#000"/>
<rect x="323" y="580" width="1" height="3" fill="#000"/>
<rect x="387" y="580" width="1" height="3" fill="#000"/>
<rect x="451" y="580" width="1" height="3" fill="#000"/>
<rect x="515" y="580" width="1" height="3" fill="#000"/>
<rect x="579" y="580" width="1" height="3" fill="#000"/>
<rect x="643" y="580" width="1" height="3" fill="#000"/>
<rect x="707" y="580" width="1" height="3" fill="#000"/>
</g>
<g>
<text x="760.00" y="58.00" textLength="32.50" lengthAdjust="spacingAndGlyphs" style="font-size:9px">1.33130</text>
<text x="760.00" y="91.00" textLength="32.50" lengthAdjust="spacingAndGlyphs" style="font-size:9px">1.32620</text>
<text x="760.00" y="124.00" textLength="32.50" lengthAdjust="spacingAndGlyphs" style="font-size:9px">1.32095</text>
<text x="760.00" y="157.00" textLength="32.50" lengthAdjust="spacingAndGlyphs" style="font-size:9px">1.31585</text>
<text x="760.00" y="190.00" textLength="32.50" lengthAdjust="spacingAndGlyphs" style="font-size:9px">1.31075</text>
<text x="760.00" y="223.00" textLength="32.50" lengthAdjust="spacingAndGlyphs" style="font-size:9px">1.30565</text>
<text x="760.00" y="256.00" textLength="32.50" lengthAdjust="spacingAndGlyphs" style="font-size:9px">1.30040</text>
<text x="760.00" y="289.00" textLength="32.50" lengthAdjust="spacingAndGlyphs" style="font-size:9px">1.29530</text>
<text x="760.00" y="322.00" textLength="32.50" lengthAdjust="spacingAndGlyphs" style="font-size:9px">1.29020</text>
<text x="760.00" y="355.00" textLength="32.50" lengthAdjust="spacingAndGlyphs" style="font-size:9px">1.28495</text>
<text x="760.00" y="388.00" textLength="32.50" lengthAdjust="spacingAndGlyphs" style="font-size:9px">1.27985</text>
<text x="760.00" y="421.00" textLength="32.50" lengthAdjust="spacingAndGlyphs" style="font-size:9px">1.27475</text>
<rect x="756" y="16" width="41" height="11" fill="#FF0000"/>
<rect x="756" y="26" width="41" height="11" fill="#FF0000"/>
<rect x="756" y="67" width="41" height="11" fill="#FF0000"/>
<rect x="756" y="186" width="41" height="11" fill="#FF0000"/>
<rect x="756" y="270" width="41" height="11" fill="#FF0000"/>
<rect x="756" y="319" width="41" height="11" fill="#FF0000"/>
<rect x="756" y="395" width="41" height="11" fill="#FF0000"/>
<text x="760.00" y="25.00" textLength="32.50" lengthAdjust="spacingAndGlyphs" style="font-size:9px;fill:#fff;stroke:#fff">1.33624</text>
<text x="760.00" y="35.00" textLength="32.50" lengthAdjust="spacingAndGlyphs" style="font-size:9px;fill:#fff;stroke:#fff">1.33471</text>
<text x="760.00" y="76.00" textLength="32.50" lengthAdjust="spacingAndGlyphs" style="font-size:9px;fill:#fff;stroke:#fff">1.32843</text>
<text x="760.00" y="195.00" textLength="32.50" lengthAdjust="spacingAndGlyphs" style="font-size:9px;fill:#fff;stroke:#fff">1.30972</text>
<text x="760.00" y="279.00" textLength="32.50" lengthAdjust="spacingAndGlyphs" style="font-size:9px;fill:#fff;stroke:#fff">1.29669</text>
<text x="760.00" y="328.00" textLength="32.50" lengthAdjust="spacingAndGlyphs" style="font-size:9px;fill:#fff;stroke:#fff">1.28906</text>
<text x="760.00" y="404.00" textLength="32.50" lengthAdjust="spacingAndGlyphs" style="font-size:9px;fill:#fff;stroke:#fff">1.27721</text>
<rect x="756" y="137" width="41" height="11" fill="#000"/>
<text x="760.00" y="146.00" textLength="32.50" lengthAdjust="spacingAndGlyphs" style="font-size:9px;fill:#fff;stroke:#fff">1.31765</text>
<text x="758.00" y="432.50" textLength="41.79" lengthAdjust="spacingAndGlyphs" style="font-size:9px">0.0097046</text>
<text x="758.00" y="530.00" textLength="18.57" lengthAdjust="spacingAndGlyphs" style="font-size:9px">0.00</text>
<text x="758.00" y="576.00" textLength="46.43" lengthAdjust="spacingAndGlyphs" style="font-size:9px">-0.0049587</text>
<text x="2.00" y="592.00" textLength="53.00" lengthAdjust="spacingAndGlyphs" style="font-size:9.3px">22 Feb 2019</text>
<text x="66.00" y="592.00" textLength="57.00" lengthAdjust="spacingAndGlyphs" style="font-size:9.3px">22 Feb 22:00</text>
<text x="130.00" y="592.00" textLength="57.00" lengthAdjust="spacingAndGlyphs" style="font-size:9.3px">25 Feb 15:00</text>
<text x="194.00" y="592.00" textLength="57.00" lengthAdjust="spacingAndGlyphs" style="font-size:9.3px">26 Feb 07:00</text>
<text x="258.00" y="592.00" textLength="57.00" lengthAdjust="spacingAndGlyphs" style="font-size:9.3px">26 Feb 23:00</text>
<text x="322.00" y="592.00" textLength="57.00" lengthAdjust="spacingAndGlyphs" style="font-size:9.3px">27 Feb 15:00</text>
<text x="386.00" y="592.00" textLength="57.00" lengthAdjust="spacingAndGlyphs" style="font-size:9.3px">28 Feb 07:00</text>
<text x="450.00" y="592.00" textLength="57.00" lengthAdjust="spacingAndGlyphs" style="font-size:9.3px">28 Feb 23:00</text>
<text x="514.00" y="592.00" textLength="51.50" lengthAdjust="spacingAndGlyphs" style="font-size:9.3px">1 Mar 15:00</text>
<text x="578.00" y="592.00" textLength="51.50" lengthAdjust="spacingAndGlyphs" style="font-size:9.3px">4 Mar 08:00</text>
<text x="642.00" y="592.00" textLength="51.50" lengthAdjust="spacingAndGlyphs" style="font-size:9.3px">5 Mar 00:00</text>
<text x="706.00" y="592.00" textLength="51.50" lengthAdjust="spacingAndGlyphs" style="font-size:9.3px">5 Mar 16:00</text>
<path d="M6 9 L13 9 L9.5 13 Z" fill="#000"/>
<text x="18.00" y="14.00" textLength="54.00" lengthAdjust="spacingAndGlyphs" style="font-size:10px">GBPUSD,H1</text>
<text x="78.00" y="14.00" textLength="32.00" lengthAdjust="spacingAndGlyphs" style="font-size:9.5px">1.31695</text>
<text x="114.20" y="14.00" textLength="32.00" lengthAdjust="spacingAndGlyphs" style="font-size:9.5px">1.31789</text>
<text x="150.70" y="14.00" textLength="32.00" lengthAdjust="spacingAndGlyphs" style="font-size:9.5px">1.31695</text>
<text x="186.20" y="14.00" textLength="32.00" lengthAdjust="spacingAndGlyphs" style="font-size:9.5px">1.31765</text>
<text x="7.00" y="435.00" textLength="240.50" lengthAdjust="spacingAndGlyphs" style="font-size:10px">MACD_color(5,34,5) 0.00000000 0.00000000 -0.00293657</text>
</g>
</svg>
</body></html>
